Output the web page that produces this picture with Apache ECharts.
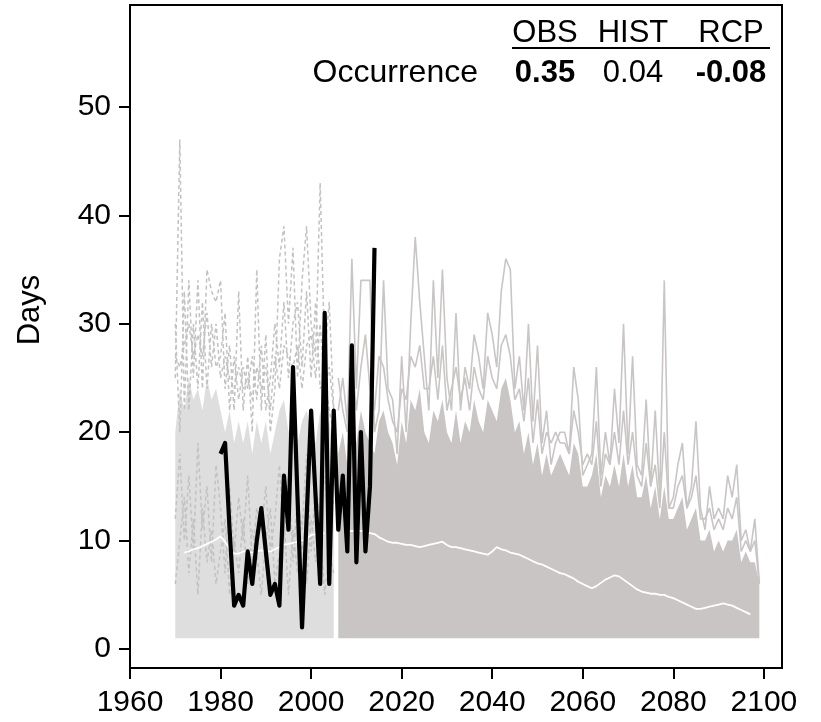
<!DOCTYPE html>
<html>
<head>
<meta charset="utf-8">
<script src="https://cdn.jsdelivr.net/npm/echarts@6/dist/echarts.min.js"></script>
<style>html,body{margin:0;padding:0;background:#fff}#c{width:821px;height:722px}</style>
</head>
<body>
<div id="c"></div>
<script>
// ---- data ----
const xTicks = [1960, 1980, 2000, 2020, 2040, 2060, 2080, 2100];
const yTicks = [0, 10, 20, 30, 40, 50];

const histStart = 1970; // HIST ensemble 1970-2005 (dashed)
const histLow = [1,1,1,1,1,1,1,1,1,1, 1,1,1,1,1,1,1,1,1,1, 1,1,1,1,1,1,1,1,1,1, 1,1,1,1,1,1];
const histCore = [20,24,22,25,23,24,22,25,23,24, 22,20,22,19,21,19,21,18,21,19, 21,18,20,22,23,20,22,19,21,22, 20,19,22,20,21,18];
const histFifth = [6,10,14,7,12,5,13,8,11,6, 9,12,5,10,7,12,6,11,9,5, 10,13,6,9,12,5,11,7,10,6, 12,8,11,5,9,7];
const histFourth = [12,18,10,16,9,19,11,15,8,17, 13,7,15,9,14,10,16,8,13,11, 15,9,12,17,10,16,8,14,11,18, 9,15,12,16,10,14];
const histThird = [27,26,28,30,27,29,27,31,26,30, 25,27,25,24,26,24,25,23,26,24, 26,22,27,24,28,27,26,28,24,28, 29,25,30,24,26,22];
const histSecond = [30,20,33,22,30,24,32,24,30,26, 27,31,22,27,23,26,24,27,23,28, 22,25,30,26,32,25,30,32,26,33, 25,32,24,25,22,20];
const histUpper = [25,47,22,34,25,34,24,35,33,32, 34,24,28,22,33,22,27,20,35,22, 29,20,24,36,39,30,37,25,34,39, 30,27,43,27,32,22];

const rcpStart = 2006; // RCP ensemble 2006-2099 (solid)
const rcpLow = [1,1,1,1,1,1,1,1,1,1, 1,1,1,1,1,1,1,1,1,1, 1,1,1,1,1,1,1,1,1,1, 1,1,1,1,1,1,1,1,1,1,
                1,1,1,1,1,1,1,1,1,1, 1,1,1,1,1,1,1,1,1,1, 1,1,1,1,1,1,1,1,1,1, 1,1,1,1,1,1,1,1,1,1,
                1,1,1,1,1,1,1,1,1,1, 1,1,1,1];
const rcpCore = [18,20,17,21,19,22,20,19,18,21, 22,20,19,17,21,19,23,22,24,20, 19,22,21,23,20,19,22,19,21,20,
                 23,21,20,23,22,21,24,25,23,20, 21,18,20,17,19,16,18,16,17,18, 17,16,19,18,15,15,16,18,14,16,
                 15,17,15,18,15,17,14,14,16,13, 15,12,15,12,12,13,14,11,12,13, 10,10,11,9,10,9,10,10,11,8,
                 9,8,8,6];
const rcpSecond = [22,25,21,27,22,26,29,24,22,27, 26,23,21,20,24,23,27,26,28,24, 24,27,23,28,22,24,26,23,25,22,
                   26,24,23,27,25,24,28,29,27,23, 24,21,25,19,23,18,20,19,20,19, 19,18,22,20,17,18,17,21,15,18,
                   17,20,17,22,17,20,16,15,19,15, 17,13,20,13,13,15,16,13,14,16, 12,12,13,11,12,11,13,12,14,9,
                   10,9,10,6];
const rcpUpper = [25,22,20,36,24,34,34,34,20,22, 34,24,23,18,27,20,30,38,32,27, 22,34,25,35,25,22,31,22,26,24,
                  29,27,24,31,29,26,33,36,35,24, 27,22,30,21,28,19,22,17,19,20, 20,18,26,23,16,17,18,26,16,20,
                  17,24,19,30,18,27,17,16,23,15, 22,14,34,13,14,17,19,13,15,21, 13,11,15,12,13,12,16,14,17,10,
                  11,9,12,6];

const histMeanStart = 1972; // ensemble mean (white)
const histMean = [8.9,9.0,9.2,9.3,9.5,9.7,9.9,10.1, 10.4,9.9,9.2,8.8,8.8,9.0,9.0,8.9,9.0,9.1,
                  9.0,9.0,9.2,9.4,9.6,9.7,9.8,9.9,10.0,10.2, 10.5,10.6,10.6,10.7];
const rcpMeanStart = 2008;
const rcpMean = [10.8,10.9,
  10.9,10.9,10.8,10.7,10.6,10.3,10.1,9.9,9.8,9.8,
  9.7,9.6,9.6,9.5,9.4,9.5,9.6,9.7,9.8,9.9,
  9.6,9.4,9.4,9.3,9.2,9.1,9.0,8.9,8.8,8.7,
  9.0,9.4,9.2,9.1,8.9,8.8,8.7,8.5,8.3,8.1,
  7.9,7.8,7.6,7.4,7.2,7.0,6.9,6.7,6.5,6.2,
  6.0,5.8,5.6,5.8,6.1,6.4,6.6,6.8,6.7,6.4,
  6.1,5.8,5.5,5.3,5.2,5.1,5.1,5.0,5.0,4.8,
  4.7,4.5,4.3,4.1,3.9,3.7,3.7,3.8,3.9,4.0,
  4.1,4.2,4.1,4.0,3.8,3.6,3.4,3.2];

const obsStart = 1980; // observations (black)
const obs = [18,19,11,4,5,4,9,6,10,13, 9,5,6,4,16,11,26,14,2,12, 22,14,6,31,6,22,11,16,9,28, 8,20,9,15,37];

const tableHead = ['OBS', 'HIST', 'RCP'];
const tableRowName = 'Occurrence';
const tableRow = ['0.35', '0.04', '-0.08'];
const tableBold = [true, false, true];

// ---- build ----
const pairs = (start, arr) => arr.map((v, i) => [start + i, v]);
const FONT = "'Liberation Sans', Arial, sans-serif";
const HIST_FILL = '#dedede', HIST_LINE = '#c2c2c2', RCP_COL = '#c9c5c5';

const base = {type: 'line', symbol: 'none', silent: true, animation: false};
function bandSeries(start, lo, hi, color) {
  const pts = [];
  hi.forEach((v, i) => pts.push([start + i, v]));
  for (let i = lo.length - 1; i >= 0; i--) pts.push([start + i, lo[i]]);
  return {
    type: 'custom', silent: true, animation: false, data: [0], clip: true,
    renderItem: (params, api) => ({type: 'polygon', shape: {points: pts.map(p => api.coord(p))}, style: {fill: color}})
  };
}
const dashed = (start, arr) => Object.assign({}, base, {data: pairs(start, arr), lineStyle: {color: HIST_LINE, width: 1.5, type: [4, 3]}});
const solid = (start, arr) => Object.assign({}, base, {data: pairs(start, arr), lineStyle: {color: RCP_COL, width: 1.6}});

const series = [
  bandSeries(histStart, histLow, histCore, HIST_FILL),
  dashed(histStart, histFifth),
  dashed(histStart, histFourth),
  dashed(histStart, histThird),
  dashed(histStart, histSecond),
  dashed(histStart, histUpper),
  bandSeries(rcpStart, rcpLow, rcpCore, RCP_COL),
  solid(rcpStart, rcpSecond),
  solid(rcpStart, rcpUpper),
  Object.assign({}, base, {data: pairs(histMeanStart, histMean), lineStyle: {color: '#ffffff', width: 1.8}}),
  Object.assign({}, base, {data: pairs(rcpMeanStart, rcpMean), lineStyle: {color: '#ffffff', width: 1.8}}),
  Object.assign({}, base, {data: pairs(obsStart, obs), lineStyle: {color: '#000000', width: 4.2, join: 'round'}})
];

const graphic = [
  {type: 'text', x: 30, y: 310, rotation: Math.PI / 2, style: {text: 'Days', font: '31px ' + FONT, fill: '#000', align: 'center', verticalAlign: 'middle'}},
  {type: 'line', shape: {x1: 512, y1: 48, x2: 770, y2: 48}, style: {stroke: '#000', lineWidth: 2}},
  {type: 'text', x: 478, y: 73, style: {text: tableRowName, font: '32px ' + FONT, fill: '#000', align: 'right', verticalAlign: 'middle'}}
];
const colX = [545, 633, 731];
tableHead.forEach((t, i) => graphic.push({type: 'text', x: colX[i], y: 33, style: {text: t, font: '31px ' + FONT, fill: '#000', align: 'center', verticalAlign: 'middle'}}));
tableRow.forEach((t, i) => graphic.push({type: 'text', x: colX[i], y: 73, style: {text: t, font: (tableBold[i] ? 'bold ' : '') + '31px ' + FONT, fill: '#000', align: 'center', verticalAlign: 'middle'}}));

const chart = echarts.init(document.getElementById('c'), null, {renderer: 'canvas'});
chart.setOption({
  animation: false,
  backgroundColor: '#ffffff',
  grid: {left: 130, right: 39, top: 5, bottom: 54, show: true, borderColor: '#000', borderWidth: 2, backgroundColor: 'transparent'},
  xAxis: {
    type: 'value', min: 1960, max: 2104,
    splitLine: {show: false},
    axisLine: {show: true, onZero: false, lineStyle: {color: '#000', width: 2}},
    axisTick: {show: true, length: 11, customValues: xTicks, lineStyle: {color: '#000', width: 2}},
    axisLabel: {customValues: xTicks, formatter: v => String(v), fontSize: 30, fontFamily: FONT, color: '#000', margin: 20}
  },
  yAxis: {
    type: 'value', min: -1.75, max: 59.4,
    splitLine: {show: false},
    axisLine: {show: true, onZero: false, lineStyle: {color: '#000', width: 2}},
    axisTick: {show: true, length: 11, customValues: yTicks, lineStyle: {color: '#000', width: 2}},
    axisLabel: {customValues: yTicks, formatter: v => String(v), fontSize: 30, fontFamily: FONT, color: '#000', margin: 19}
  },
  graphic: graphic,
  series: series
});
</script>
</body>
</html>
